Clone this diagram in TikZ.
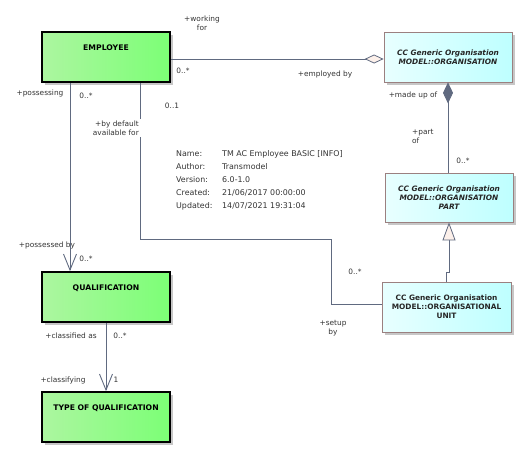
\documentclass[tikz,border=0pt]{standalone}
\usepackage{fontspec}
\setmainfont{DejaVu Sans}
\usetikzlibrary{arrows.meta, shadows}
\definecolor{linegrey}{RGB}{96,106,128}
\definecolor{greenleft}{RGB}{172,246,160}
\definecolor{greenright}{RGB}{124,255,118}
\definecolor{cyanleft}{RGB}{232,255,255}
\definecolor{cyanright}{RGB}{190,255,255}
\definecolor{orgborder}{RGB}{155,128,128}
\definecolor{tipfill}{RGB}{252,240,234}
\newcommand{\smallfont}{\fontsize{7.4}{9}\selectfont}
\newcommand{\boldfont}{\fontsize{7.7}{9.5}\selectfont\bfseries}
\tikzstyle{boxshadow} = [drop shadow={shadow xshift=3pt, shadow yshift=-3pt, fill=black!22, opacity=1}]
\tikzstyle{classbox} = [rectangle, minimum width=128pt, minimum height=50pt, inner sep=0pt, draw=black, line width=1.6pt, left color=greenleft, right color=greenright, boxshadow]
\tikzstyle{orgbox} = [rectangle, minimum width=128pt, minimum height=50pt, inner sep=0pt, align=center, draw=orgborder, line width=0.8pt, left color=cyanleft, right color=cyanright, text=black!85, font=\smallfont\bfseries, boxshadow]
\tikzstyle{title} = [font=\boldfont, anchor=north, yshift=-10pt]
\tikzstyle{role} = [font=\smallfont, text=black!80, inner sep=1pt]
\tikzstyle{arrow} = [draw=linegrey, line width=0.8pt]
\tikzstyle{openhead} = [-{Straight Barb[length=16pt, width=13pt, line width=0.9pt]}]

\begin{document}
\begin{tikzpicture}[x=1pt, y=-1pt]
        \useasboundingbox (0,0) rectangle (524,453);
        % classes
        \node (employee) [classbox, label={[title]north:EMPLOYEE}] at (106,57) {};
        \node (qualification) [classbox, label={[title]north:QUALIFICATION}] at (106,297) {};
        \node (qualtype) [classbox, label={[title]north:TYPE OF QUALIFICATION}] at (106,417) {};
        \node (org) [orgbox, font=\smallfont\bfseries\itshape] at (448,57) {CC Generic Organisation\\MODEL::ORGANISATION};
        \node (orgpart) [orgbox, font=\smallfont\bfseries\itshape, minimum height=49pt] at (449,197.5) {CC Generic Organisation\\MODEL::ORGANISATION\\PART};
        \node (orgunit) [orgbox, minimum width=129pt] at (446.5,307) {CC Generic Organisation\\MODEL::ORGANISATIONAL\\UNIT};
        \coordinate (setupbend) at (331,239);

        % connectors
        \draw [arrow, -{Diamond[length=19pt, width=9pt, fill=tipfill]}] ([yshift=-2pt]employee.east) -- ([yshift=-2pt]org.west);
        \draw [arrow, {Diamond[length=21pt, width=10pt]}-] (org.south) -- (org.south |- orgpart.north);
        \draw [arrow, -{Triangle[length=18pt, width=13pt, fill=tipfill]}] (orgunit.north) -- ++(0,-9) -| (orgpart.south);
        \draw [arrow] ([xshift=34pt]employee.south) |- (setupbend) |- ([yshift=3pt]orgunit.west);
        \draw [arrow, openhead] ([xshift=-36pt]employee.south) -- ([xshift=-36pt]qualification.north);
        \draw [arrow, openhead] (qualification.south) -- (qualtype.north);

        % role names and multiplicities
        \node (workingfor) [role, align=center] at (202,23) {+working\\for};
        \node (empmult) [role] at (183,71) {0..*};
        \node (employedby) [role] at (325,74) {+employed by};
        \node (madeupof) [role] at (413,95) {+made up of};
        \node (partof) [role, align=left, anchor=west] at (411,136) {+part\\of};
        \node (partmult) [role] at (463,161) {0..*};
        \node (possessing) [role] at (40,93) {+possessing};
        \node (possmult) [role] at (86,96) {0..*};
        \node (defmult) [role] at (172,106) {0..1};
        \node (bydefault) [role, align=right, anchor=east, fill=white, inner sep=2pt] at (141,128) {+by default\\available for};
        \node (possessedby) [role] at (47,245) {+possessed by};
        \node (qualmult) [role] at (86,259) {0..*};
        \node (unitmult) [role] at (355,272) {0..*};
        \node (setupby) [role, align=center] at (333,328) {+setup\\by};
        \node (classifiedas) [role] at (71,336) {+classified as};
        \node (classmult) [role] at (120,336) {0..*};
        \node (classifying) [role] at (63,380) {+classifying};
        \node (typemult) [role] at (116,380) {1};

        % diagram info
        \node (info) [anchor=north west, inner sep=0pt, text=black!80] at (176,147) {\fontsize{7.9}{13}\selectfont
            \begin{tabular}{@{}p{46pt}@{}l@{}}
            Name: & TM AC Employee BASIC [INFO]\\
            Author: & Transmodel\\
            Version: & 6.0-1.0\\
            Created: & 21/06/2017 00:00:00\\
            Updated: & 14/07/2021 19:31:04
            \end{tabular}};
    \end{tikzpicture}
\end{document}
